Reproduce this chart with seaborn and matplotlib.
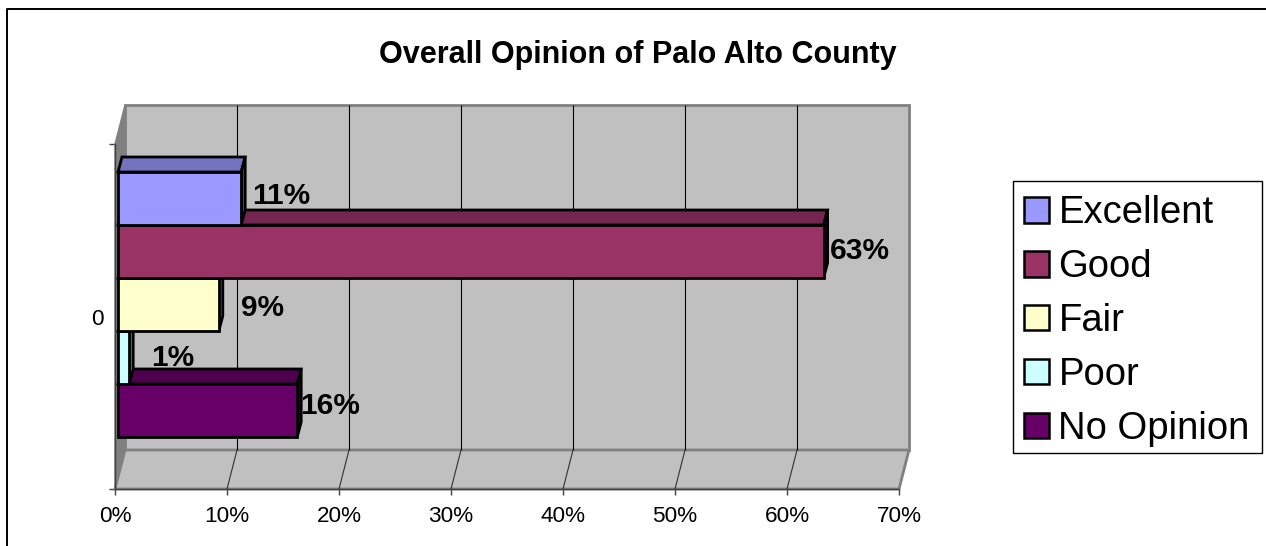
import numpy as np
import pandas as pd
import matplotlib
matplotlib.use("Agg")
import matplotlib.pyplot as plt
from matplotlib.lines import Line2D
from matplotlib.patches import Patch, Polygon, Rectangle
import seaborn as sns

ratings = ["Excellent", "Good", "Fair", "Poor", "No Opinion"]
shares = [11, 63, 9, 1, 16]
group = ["0"] * 5
tick_values = [0, 10, 20, 30, 40, 50, 60, 70]

front_colors = ["#9999FF", "#993366", "#FFFFCC", "#CCFFFF", "#660066"]
top_colors = ["#7373BF", "#732650", "#BFBF99", "#99BFBF", "#4D004D"]
side_colors = ["#4D4D80", "#4D1A33", "#808066", "#668080", "#330033"]
label_nudge = [(11, -2.5), (6, -1), (22, 3), (22, 0.5), (3, -4.5)]

W, H = 1266, 546
LEFT, RIGHT, TOP, BOTTOM = 115, 899, 144, 489
FONT = ["Liberation Sans", "DejaVu Sans"]

sns.set_style("white")
plt.rcParams["font.family"] = FONT
plt.rcParams["text.color"] = "black"
plt.rcParams["xtick.color"] = "black"
plt.rcParams["ytick.color"] = "black"

fig = plt.figure(figsize=(W / 100, H / 100), dpi=100, facecolor="white")
ax = fig.add_axes([LEFT / W, 1 - BOTTOM / H, (RIGHT - LEFT) / W, (BOTTOM - TOP) / H])

df = pd.DataFrame({"rating": ratings, "share": shares, "group": group})
sns.barplot(
    data=df, x="share", y="group", hue="rating", hue_order=ratings,
    palette=dict(zip(ratings, front_colors)), saturation=1, orient="h",
    width=265 / 345, gap=0, edgecolor="black", linewidth=2, legend=False, ax=ax,
)
ax.set_xlim(0, 70)
ax.set_ylim(0.5, -0.5)

# one screen pixel expressed in data units
px = 70 / (RIGHT - LEFT)
py = 1 / (BOTTOM - TOP)


def add_face(points, color, z, edge=None, lw=2):
    ax.add_patch(Polygon(points, closed=True, facecolor=color, edgecolor=edge or color,
                         linewidth=lw, zorder=z, clip_on=False, joinstyle="miter"))


# Back wall, side wall and floor of the 3-D box
wall_dx, wall_dy = 10 * px, -39 * py
GREY, WALL = "#808080", "#C0C0C0"
add_face([(wall_dx, 0.5 + wall_dy), (70 + wall_dx, 0.5 + wall_dy),
          (70 + wall_dx, -0.5 + wall_dy), (wall_dx, -0.5 + wall_dy)], WALL, 0.5, GREY, 2)
add_face([(0, 0.5), (70, 0.5), (70 + wall_dx, 0.5 + wall_dy), (wall_dx, 0.5 + wall_dy)],
         WALL, 0.6, GREY, 2)
add_face([(0, 0.5), (wall_dx, 0.5 + wall_dy), (wall_dx, -0.5 + wall_dy), (0, -0.5)],
         GREY, 0.7, GREY, 1)

# Gridlines run up the back wall and forward across the floor
for t in tick_values[1:-1]:
    ax.plot([t + wall_dx] * 2, [-0.5 + wall_dy, 0.5 + wall_dy], color="black", lw=0.8,
            zorder=0.8, clip_on=False, solid_capstyle="butt")
    ax.plot([t, t + wall_dx], [0.5, 0.5 + wall_dy], color="#303030", lw=0.8,
            zorder=0.8, clip_on=False, solid_capstyle="butt")

# Extrude every bar; lower bars are painted first so upper ones sit in front
offset_x, offset_y = 3 * px, -12 * py
depth_x, depth_y = 4 * px, -15 * py
bars = [c[0] for c in ax.containers]
for i, bar in enumerate(bars):
    z = 2 + (len(bars) - i)
    bar.set_x(bar.get_x() + offset_x)
    bar.set_y(bar.get_y() + offset_y)
    bar.set_zorder(z + 0.5)
    bar.set_clip_on(False)
    bar.set_joinstyle("miter")
    x0, x1 = bar.get_x(), bar.get_x() + bar.get_width()
    y0, y1 = bar.get_y(), bar.get_y() + bar.get_height()
    add_face([(x0, y0), (x1, y0), (x1 + depth_x, y0 + depth_y), (x0 + depth_x, y0 + depth_y)],
             top_colors[i], z, "black")
    add_face([(x1, y0), (x1 + depth_x, y0 + depth_y), (x1 + depth_x, y1 + depth_y), (x1, y1)],
             side_colors[i], z, "black")
    nx, ny = label_nudge[i]
    ax.annotate(f"{shares[i]}%", xy=(x1, (y0 + y1) / 2), xytext=(nx * 0.72, -ny * 0.72),
                textcoords="offset points", ha="left", va="center", fontsize=21.5,
                fontweight="bold", color="black", zorder=20, annotation_clip=False)

# Axes
ax.set_xlabel("")
ax.set_ylabel("")
ax.set_xticks(tick_values)
ax.set_xticklabels([f"{t}%" for t in tick_values])
ax.set_yticks([-0.5, 0.5], minor=False)
ax.set_yticklabels(["", ""])
ax.set_yticks([0], minor=True)
ax.set_yticklabels(group[:1], minor=True)
ax.tick_params(axis="x", which="major", direction="out", length=4, width=1, color="#404040",
               labelsize=16.2, pad=8, bottom=True)
ax.tick_params(axis="y", which="major", direction="out", length=4, width=1, color="#404040", left=True)
ax.tick_params(axis="y", which="minor", length=0, labelsize=16.2, pad=8, left=False)
for name, spine in ax.spines.items():
    spine.set_visible(name in ("left", "bottom"))
    spine.set_color("#404040")
    spine.set_linewidth(1)
    spine.set_zorder(1)
ax.patch.set_visible(False)

fig.text(638 / W, 1 - 54.5 / H, "Overall Opinion of Palo Alto County", ha="center", va="center",
         fontsize=22, fontweight="bold", color="black")

# Legend: the frame is a separate box so the entries can sit slightly below its centre
fig.add_artist(Rectangle((1012.5 / W, 1 - 453 / H), 249.5 / W, 272 / H, transform=fig.transFigure,
                         facecolor="white", edgecolor="black", linewidth=1, zorder=-1))
handles = [Patch(facecolor=c, edgecolor="black", linewidth=1.8) for c in front_colors]
leg = ax.legend(handles, ratings, loc="center", bbox_to_anchor=(1137 / W, 1 - 321 / H),
                bbox_transform=fig.transFigure, borderaxespad=0, fontsize=27.5, frameon=False,
                handlelength=0.66, handleheight=0.66, handletextpad=0.24, labelspacing=0.47,
                borderpad=0.24)
leg.set_zorder(30)

# Chart-area border along the top and left
fig.add_artist(Line2D([7.5 / W, 7.5 / W, 1], [0, 1 - 9 / H, 1 - 9 / H], color="black", lw=1.4))

fig.savefig("out.png", dpi=100, facecolor="white")
